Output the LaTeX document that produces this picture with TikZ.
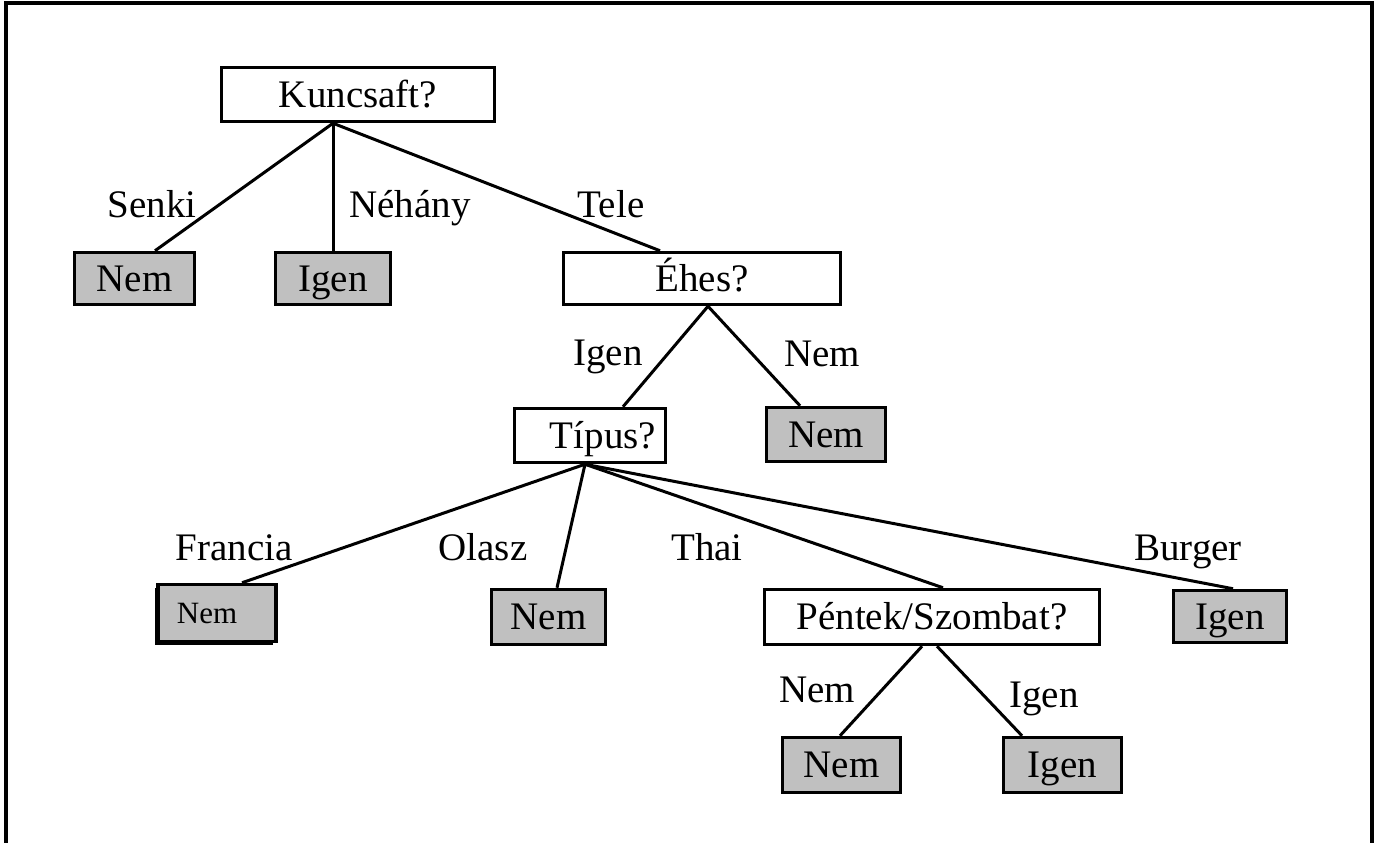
\documentclass[tikz,border=0pt]{standalone}
\usepackage{fontspec}
\setmainfont{Liberation Serif}
\usetikzlibrary{shadows}
\definecolor{leafgray}{RGB}{192,192,192}
\begin{document}
\begin{tikzpicture}[x=1pt,y=-1pt,
  treefont/.style={font=\fontsize{39}{44}\selectfont},
  box/.style={draw, line width=3.5pt, inner sep=0pt, treefont,
              text height=25.5pt, text depth=0pt},
  question/.style={box, fill=white},
  leaf/.style={box, fill=leafgray},
  edge/.style={line width=3pt},
  lbl/.style={anchor=base, inner sep=0pt, treefont}]
\useasboundingbox (0,0) rectangle (1374,843);

% open frame
\draw[line width=4pt] (5.5,843) -- (5.5,3.5) -- (1371.5,3.5) -- (1371.5,843);

% decision nodes
\node[question, minimum width=273, minimum height=54] (kuncsaft) at (358,94.5) {Kuncsaft?};
\node[question, minimum width=277, minimum height=52] (ehes) at (702,278.5) {Éhes?};
\node[question, minimum width=151, minimum height=54] (tipus) at (590,435.5) {\hspace*{26pt}Típus?};
\node[question, minimum width=335, minimum height=55] (pentek) at (932,617) {Péntek/Szombat?};

% leaves
\node[leaf, minimum width=120, minimum height=52] (nemA) at (134.5,278.5) {Nem};
\node[leaf, minimum width=115, minimum height=52] (igenA) at (333,278.5) {Igen};
\node[leaf, minimum width=119, minimum height=54] (nemB) at (826,434.5) {Nem};
\node[leaf, minimum width=118, minimum height=57, font=\fontsize{31}{36}\selectfont,
      text height=20.5pt,
      drop shadow={shadow xshift=-3pt, shadow yshift=-3pt, fill=black, opacity=1}]
      (nemC) at (217,613) {Nem\hspace*{20pt}};
\node[leaf, minimum width=114, minimum height=55] (nemD) at (548.5,617) {Nem};
\node[leaf, minimum width=113, minimum height=52] (igenB) at (1230,616.5) {Igen};
\node[leaf, minimum width=118, minimum height=55] (nemE) at (841.5,765) {Nem};
\node[leaf, minimum width=118, minimum height=55] (igenC) at (1062.5,765) {Igen};

% connectors
\draw[edge] ([xshift=-25pt]kuncsaft.south) -- ([xshift=20.5pt]nemA.north);
\draw[edge] ([xshift=-25pt]kuncsaft.south) -- (igenA.north);
\draw[edge] ([xshift=-25pt]kuncsaft.south) -- ([xshift=-42pt]ehes.north);
\draw[edge] ([xshift=6pt]ehes.south) -- ([xshift=33pt]tipus.north);
\draw[edge] ([xshift=6pt]ehes.south) -- ([xshift=-26pt]nemB.north);
\draw[edge] ([xshift=-5pt]tipus.south) -- ([xshift=25pt]nemC.north);
\draw[edge] ([xshift=-5pt]tipus.south) -- ([xshift=8.5pt]nemD.north);
\draw[edge] ([xshift=-5pt]tipus.south) -- ([xshift=11pt]pentek.north);
\draw[edge] ([xshift=-5pt]tipus.south) -- ([xshift=3pt]igenB.north);
\draw[edge] ([xshift=-10pt]pentek.south) -- ([xshift=-1.5pt]nemE.north);
\draw[edge] ([xshift=5pt]pentek.south) -- ([xshift=-40.5pt]igenC.north);

% branch labels
\node[lbl] (lSenki) at (152,217) {Senki};
\node[lbl] (lNehany) at (410,217) {Néhány};
\node[lbl] (lTele) at (611,217) {Tele};
\node[lbl] (lIgenA) at (608,365) {Igen};
\node[lbl] (lNemA) at (822,366) {Nem};
\node[lbl] (lFrancia) at (234,560) {Francia};
\node[lbl] (lOlasz) at (483,560) {Olasz};
\node[lbl] (lThai) at (707,560) {Thai};
\node[lbl] (lBurger) at (1188,560) {Burger};
\node[lbl] (lNemB) at (817,702) {Nem};
\node[lbl] (lIgenB) at (1044,707) {Igen};
\end{tikzpicture}
\end{document}
